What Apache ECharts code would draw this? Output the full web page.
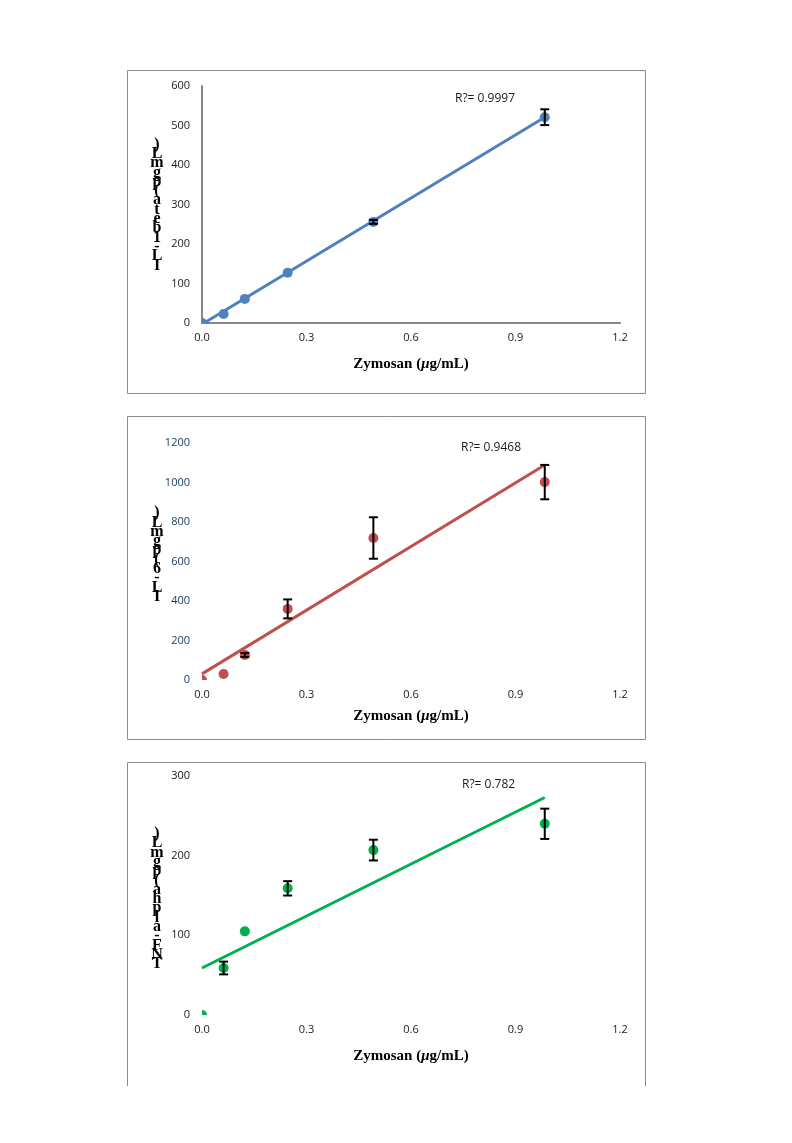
<!DOCTYPE html>
<html>
<head>
<meta charset="utf-8">
<script src="https://cdn.jsdelivr.net/npm/echarts@6/dist/echarts.min.js"></script>
<style>
html,body{margin:0;padding:0;background:#fff;}
#c{width:792px;height:1143px;}
</style>
</head>
<body>
<div id="c"></div>
<script>
// ---- data ----
var doses = [0, 0.062, 0.123, 0.246, 0.492, 0.984];
var il1Values = [0, 23, 61, 127, 256, 521];
var il1Errors = [0, 0, 0, 0, 5, 20];
var il1Trend = [[0.006, 0], [0.984, 521]];
var il6Values = [0, 30, 127, 360, 719, 1002];
var il6Errors = [0, 0, 10, 48, 105, 87];
var il6Trend = [[0, 31], [0.984, 1089]];
var tnfValues = [0, 59, 105, 159, 207, 240];
var tnfErrors = [0, 8, 0, 9, 13, 19];
var tnfTrend = [[0, 59], [0.984, 273]];
var r2Labels = ['R?= 0.9997', 'R?= 0.9468', 'R?= 0.782'];
var yNames = ['IL-1beta (pg/mL)', 'IL-6 (pg/mL)', 'TNF-alpha (pg/mL)'];
var xName = 'Zymosan (μg/mL)';
var xTicks = [0, 0.3, 0.6, 0.9, 1.2];
var yMaxes = [600, 1200, 300];
var yIntervals = [100, 200, 100];

var colors = ['#4f81bd', '#c0504d', '#00b050'];
var values = [il1Values, il6Values, tnfValues];
var errors = [il1Errors, il6Errors, tnfErrors];
var trends = [il1Trend, il6Trend, tnfTrend];

var grids = [
  {left: 202, right: 172, top: 86, bottom: 820},
  {left: 202, right: 172, top: 443, bottom: 463},
  {left: 202, right: 172, top: 776, bottom: 128}
];

function stacked(s) {
  return s.replace(/[ \/]/g, '').split('').reverse().join('\n');
}

var xAxes = [], yAxes = [], series = [];
for (var i = 0; i < 3; i++) {
  xAxes.push({
    type: 'value', gridIndex: i, min: 0, max: 1.2, interval: 0.3,
    splitLine: {show: false},
    axisTick: {show: false},
    axisLine: {show: i === 0, onZero: false, lineStyle: {color: '#868686', width: 2}},
    axisLabel: {color: '#1a1a1a', fontSize: 11, fontFamily: 'Open Sans, sans-serif', margin: 9,
      formatter: function (v) { return v.toFixed(1); }}
  });
  yAxes.push({
    type: 'value', gridIndex: i, min: 0, max: yMaxes[i], interval: yIntervals[i],
    splitLine: {show: false},
    axisTick: {show: false},
    axisLine: {show: i === 0, onZero: false, lineStyle: {color: '#868686', width: 2}},
    axisLabel: {color: i === 1 ? '#17375e' : '#1a1a1a', fontSize: 11, fontFamily: 'Open Sans, sans-serif', margin: 12,
      formatter: function (v) { return String(v); }}
  });
  var pts = doses.map(function (d, k) { return [d, values[i][k]]; });
  var errData = doses.map(function (d, k) { return [d, values[i][k], errors[i][k]]; })
    .filter(function (e) { return e[2] > 0; });
  series.push({
    type: 'line', xAxisIndex: i, yAxisIndex: i, data: trends[i],
    showSymbol: false, symbol: 'none', clip: true, z: 2,
    lineStyle: {color: colors[i], width: 3}, silent: true
  });
  (function (col) {
    series.push({
      type: 'custom', xAxisIndex: i, yAxisIndex: i, data: pts, z: 3,
      renderItem: function (params, api) {
        var p = api.coord([api.value(0), api.value(1)]);
        var cs = params.coordSys;
        return {
          type: 'circle', shape: {cx: p[0], cy: p[1], r: 5},
          style: {fill: col},
          clipPath: {type: 'rect', shape: {x: cs.x, y: cs.y - 20, width: cs.width, height: cs.height + 20}}
        };
      }
    });
  })(colors[i]);
  series.push({
    type: 'custom', xAxisIndex: i, yAxisIndex: i, data: errData, z: 4, clip: false,
    renderItem: function (params, api) {
      var x = api.value(0), y = api.value(1), e = api.value(2);
      var top = api.coord([x, y + e]);
      var bot = api.coord([x, y - e]);
      var w = 4.5;
      var st = {stroke: '#000', lineWidth: 2};
      return {type: 'group', children: [
        {type: 'line', shape: {x1: top[0], y1: top[1], x2: bot[0], y2: bot[1]}, style: st},
        {type: 'line', shape: {x1: top[0] - w, y1: top[1], x2: top[0] + w, y2: top[1]}, style: st},
        {type: 'line', shape: {x1: bot[0] - w, y1: bot[1], x2: bot[0] + w, y2: bot[1]}, style: st}
      ]};
    }
  });
}

var graphic = [
  {type: 'rect', shape: {x: 127.5, y: 70.5, width: 518, height: 323}, style: {fill: 'none', stroke: '#8c8c8c', lineWidth: 1}, z: -1},
  {type: 'rect', shape: {x: 127.5, y: 416.5, width: 518, height: 323}, style: {fill: 'none', stroke: '#8c8c8c', lineWidth: 1}, z: -1},
  {type: 'polyline', shape: {points: [[127.5, 1086], [127.5, 762.5], [645.5, 762.5], [645.5, 1086]]}, style: {fill: 'none', stroke: '#8c8c8c', lineWidth: 1}, z: -1}
];
var r2Pos = [[455, 99], [461, 448], [462, 785]];
var xTitleY = [364, 716, 1056];
var yNameY = [205, 555, 899];
for (var j = 0; j < 3; j++) {
  graphic.push({type: 'text', x: r2Pos[j][0], y: r2Pos[j][1],
    style: {text: r2Labels[j], fill: '#1a1a1a', font: '12px "Open Sans", sans-serif', textVerticalAlign: 'middle'}});
  graphic.push({type: 'text', x: 411, y: xTitleY[j],
    style: {
      text: '{b|Zymosan (}{i|μ}{b|g/mL)}',
      align: 'center', verticalAlign: 'middle',
      rich: {
        b: {font: 'bold 15px "Liberation Serif", serif', fill: '#000'},
        i: {font: 'italic bold 15px "Liberation Serif", serif', fill: '#000'}
      }
    }});
  graphic.push({type: 'text', x: 157, y: yNameY[j],
    style: {text: stacked(yNames[j]), fill: '#000', font: 'bold 16px "Liberation Serif", serif',
      align: 'center', verticalAlign: 'middle', lineHeight: 9.3}});
}

var chart = echarts.init(document.getElementById('c'));
chart.setOption({
  animation: false,
  backgroundColor: '#fff',
  grid: grids,
  xAxis: xAxes,
  yAxis: yAxes,
  series: series,
  graphic: graphic
});
</script>
</body>
</html>
